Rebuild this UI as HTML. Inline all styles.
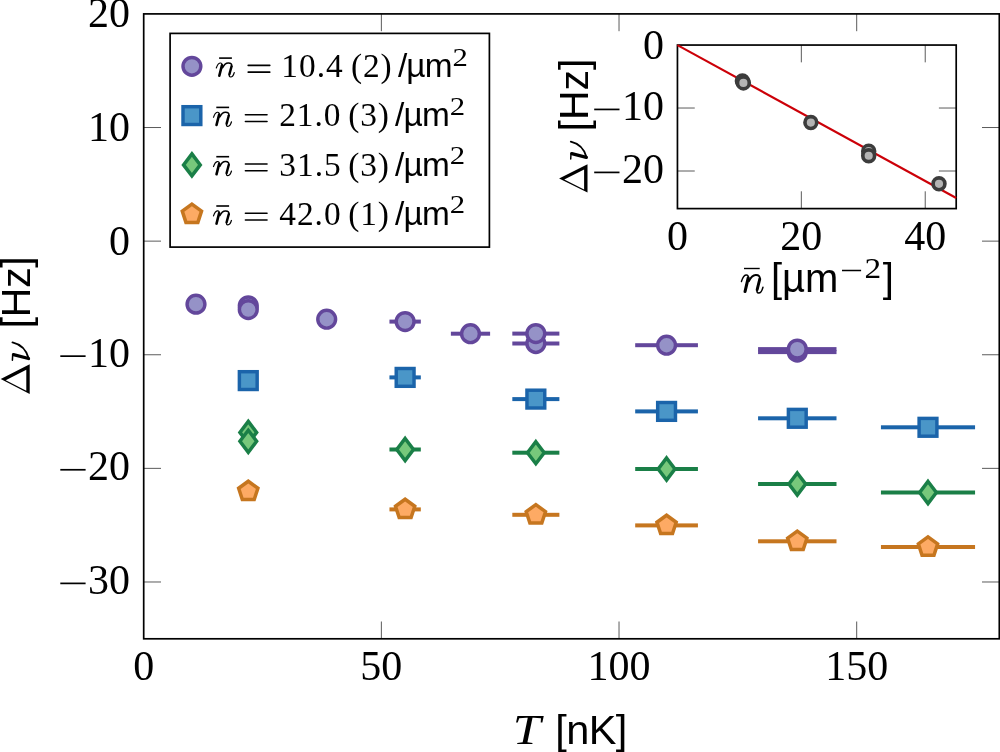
<!DOCTYPE html>
<html><head><meta charset="utf-8"><style>
html,body{margin:0;padding:0;background:#fff;overflow:hidden;}
svg{display:block;will-change:transform;}
text{fill:#000;}
</style></head><body>
<svg width="1000" height="752" viewBox="0 0 1000 752">
<rect width="1000" height="752" fill="#fff"/>
<g stroke="#000" stroke-width="0.65">
<line x1="381.37" y1="638.8" x2="381.37" y2="621.5"/>
<line x1="381.37" y1="13.9" x2="381.37" y2="31.200000000000003"/>
<line x1="619.03" y1="638.8" x2="619.03" y2="621.5"/>
<line x1="619.03" y1="13.9" x2="619.03" y2="31.200000000000003"/>
<line x1="856.70" y1="638.8" x2="856.70" y2="621.5"/>
<line x1="856.70" y1="13.9" x2="856.70" y2="31.200000000000003"/>
<line x1="143.7" y1="127.52" x2="161.0" y2="127.52"/>
<line x1="999.3" y1="127.52" x2="982.0" y2="127.52"/>
<line x1="143.7" y1="241.14" x2="161.0" y2="241.14"/>
<line x1="999.3" y1="241.14" x2="982.0" y2="241.14"/>
<line x1="143.7" y1="354.75" x2="161.0" y2="354.75"/>
<line x1="999.3" y1="354.75" x2="982.0" y2="354.75"/>
<line x1="143.7" y1="468.37" x2="161.0" y2="468.37"/>
<line x1="999.3" y1="468.37" x2="982.0" y2="468.37"/>
<line x1="143.7" y1="581.99" x2="161.0" y2="581.99"/>
<line x1="999.3" y1="581.99" x2="982.0" y2="581.99"/>
</g>
<rect x="389.45" y="319.60" width="31.37" height="4.0" fill="#63479b"/>
<rect x="450.88" y="331.70" width="39.22" height="4.0" fill="#63479b"/>
<rect x="512.32" y="341.50" width="47.06" height="4.0" fill="#63479b"/>
<rect x="512.32" y="331.60" width="47.06" height="4.0" fill="#63479b"/>
<rect x="635.19" y="343.20" width="62.74" height="4.0" fill="#63479b"/>
<rect x="758.07" y="350.10" width="78.43" height="4.0" fill="#63479b"/>
<rect x="758.07" y="347.10" width="78.43" height="4.0" fill="#63479b"/>
<circle cx="195.99" cy="304.15" r="8.9" fill="#9592c7" stroke="#63479b" stroke-width="3.45"/>
<circle cx="248.27" cy="305.80" r="8.9" fill="#9592c7" stroke="#63479b" stroke-width="3.45"/>
<circle cx="248.27" cy="309.60" r="8.9" fill="#9592c7" stroke="#63479b" stroke-width="3.45"/>
<circle cx="326.70" cy="319.20" r="8.9" fill="#9592c7" stroke="#63479b" stroke-width="3.45"/>
<circle cx="405.13" cy="321.60" r="8.9" fill="#9592c7" stroke="#63479b" stroke-width="3.45"/>
<circle cx="470.49" cy="333.70" r="8.9" fill="#9592c7" stroke="#63479b" stroke-width="3.45"/>
<circle cx="535.85" cy="343.50" r="8.9" fill="#9592c7" stroke="#63479b" stroke-width="3.45"/>
<circle cx="535.85" cy="333.60" r="8.9" fill="#9592c7" stroke="#63479b" stroke-width="3.45"/>
<circle cx="666.57" cy="345.20" r="8.9" fill="#9592c7" stroke="#63479b" stroke-width="3.45"/>
<circle cx="797.28" cy="352.10" r="8.9" fill="#9592c7" stroke="#63479b" stroke-width="3.45"/>
<circle cx="797.28" cy="349.10" r="8.9" fill="#9592c7" stroke="#63479b" stroke-width="3.45"/>
<rect x="389.45" y="375.40" width="31.37" height="4.0" fill="#1b64aa"/>
<rect x="512.32" y="397.10" width="47.06" height="4.0" fill="#1b64aa"/>
<rect x="635.19" y="409.40" width="62.74" height="4.0" fill="#1b64aa"/>
<rect x="758.07" y="416.30" width="78.43" height="4.0" fill="#1b64aa"/>
<rect x="880.94" y="425.30" width="94.12" height="4.0" fill="#1b64aa"/>
<rect x="239.37" y="371.70" width="17.80" height="17.80" fill="#4a96c8" stroke="#1b64aa" stroke-width="3.45"/>
<rect x="396.23" y="368.50" width="17.80" height="17.80" fill="#4a96c8" stroke="#1b64aa" stroke-width="3.45"/>
<rect x="526.95" y="390.20" width="17.80" height="17.80" fill="#4a96c8" stroke="#1b64aa" stroke-width="3.45"/>
<rect x="657.67" y="402.50" width="17.80" height="17.80" fill="#4a96c8" stroke="#1b64aa" stroke-width="3.45"/>
<rect x="788.38" y="409.40" width="17.80" height="17.80" fill="#4a96c8" stroke="#1b64aa" stroke-width="3.45"/>
<rect x="919.10" y="418.40" width="17.80" height="17.80" fill="#4a96c8" stroke="#1b64aa" stroke-width="3.45"/>
<rect x="389.45" y="447.50" width="31.37" height="4.0" fill="#1a7f47"/>
<rect x="512.32" y="450.70" width="47.06" height="4.0" fill="#1a7f47"/>
<rect x="635.19" y="467.00" width="62.74" height="4.0" fill="#1a7f47"/>
<rect x="758.07" y="482.00" width="78.43" height="4.0" fill="#1a7f47"/>
<rect x="880.94" y="490.50" width="94.12" height="4.0" fill="#1a7f47"/>
<path d="M248.27 421.40L256.62 432.40L248.27 443.40L239.92 432.40Z" fill="#77c87b" stroke="#1a7f47" stroke-width="3.5" stroke-miterlimit="10"/>
<path d="M248.27 430.30L256.62 441.30L248.27 452.30L239.92 441.30Z" fill="#77c87b" stroke="#1a7f47" stroke-width="3.5" stroke-miterlimit="10"/>
<path d="M405.13 438.50L413.48 449.50L405.13 460.50L396.78 449.50Z" fill="#77c87b" stroke="#1a7f47" stroke-width="3.5" stroke-miterlimit="10"/>
<path d="M535.85 441.70L544.20 452.70L535.85 463.70L527.50 452.70Z" fill="#77c87b" stroke="#1a7f47" stroke-width="3.5" stroke-miterlimit="10"/>
<path d="M666.57 458.00L674.92 469.00L666.57 480.00L658.22 469.00Z" fill="#77c87b" stroke="#1a7f47" stroke-width="3.5" stroke-miterlimit="10"/>
<path d="M797.28 473.00L805.63 484.00L797.28 495.00L788.93 484.00Z" fill="#77c87b" stroke="#1a7f47" stroke-width="3.5" stroke-miterlimit="10"/>
<path d="M928.00 481.50L936.35 492.50L928.00 503.50L919.65 492.50Z" fill="#77c87b" stroke="#1a7f47" stroke-width="3.5" stroke-miterlimit="10"/>
<rect x="389.45" y="507.40" width="31.37" height="4.0" fill="#c6761f"/>
<rect x="512.32" y="512.80" width="47.06" height="4.0" fill="#c6761f"/>
<rect x="635.19" y="523.40" width="62.74" height="4.0" fill="#c6761f"/>
<rect x="758.07" y="539.30" width="78.43" height="4.0" fill="#c6761f"/>
<rect x="880.94" y="545.00" width="94.12" height="4.0" fill="#c6761f"/>
<path d="M248.27 481.26L257.92 488.27L254.23 499.60L242.31 499.60L238.63 488.27Z" fill="#fdaa64" stroke="#c6761f" stroke-width="3.5" stroke-miterlimit="10"/>
<path d="M405.13 499.26L414.78 506.27L411.09 517.60L399.17 517.60L395.49 506.27Z" fill="#fdaa64" stroke="#c6761f" stroke-width="3.5" stroke-miterlimit="10"/>
<path d="M535.85 504.66L545.49 511.67L541.81 523.00L529.89 523.00L526.21 511.67Z" fill="#fdaa64" stroke="#c6761f" stroke-width="3.5" stroke-miterlimit="10"/>
<path d="M666.57 515.26L676.21 522.27L672.53 533.60L660.61 533.60L656.92 522.27Z" fill="#fdaa64" stroke="#c6761f" stroke-width="3.5" stroke-miterlimit="10"/>
<path d="M797.28 531.16L806.93 538.17L803.24 549.50L791.32 549.50L787.64 538.17Z" fill="#fdaa64" stroke="#c6761f" stroke-width="3.5" stroke-miterlimit="10"/>
<path d="M928.00 536.86L937.64 543.87L933.96 555.20L922.04 555.20L918.36 543.87Z" fill="#fdaa64" stroke="#c6761f" stroke-width="3.5" stroke-miterlimit="10"/>
<rect x="143.7" y="13.9" width="855.60" height="624.90" fill="none" stroke="#000" stroke-width="1.7"/>
<text x="88.00" y="27.40" font-family="'Liberation Serif', serif" font-size="42.0">20</text>
<text x="88.00" y="141.02" font-family="'Liberation Serif', serif" font-size="42.0">10</text>
<text x="109.00" y="254.64" font-family="'Liberation Serif', serif" font-size="42.0">0</text>
<text x="88.00" y="366.55" font-family="'Liberation Serif', serif" font-size="42.0">10</text>
<rect x="60.30" y="355.30" width="25.30" height="1.70" fill="#000"/>
<text x="88.00" y="480.17" font-family="'Liberation Serif', serif" font-size="42.0">20</text>
<rect x="60.30" y="468.92" width="25.30" height="1.70" fill="#000"/>
<text x="88.00" y="593.79" font-family="'Liberation Serif', serif" font-size="42.0">30</text>
<rect x="60.30" y="582.54" width="25.30" height="1.70" fill="#000"/>
<text x="133.20" y="680.10" font-family="'Liberation Serif', serif" font-size="42.0">0</text>
<text x="360.37" y="680.10" font-family="'Liberation Serif', serif" font-size="42.0">50</text>
<text x="587.53" y="680.10" font-family="'Liberation Serif', serif" font-size="42.0">100</text>
<text x="825.20" y="680.10" font-family="'Liberation Serif', serif" font-size="42.0">150</text>
<text transform="translate(516.00 743.60) scale(1.2 1)" x="-2.75" y="0" font-family="'Liberation Serif', serif" font-style="italic" font-size="42">T</text>
<text x="555.34" y="743.60" font-family="'Liberation Sans', sans-serif" font-size="41.5" letter-spacing="-0.6">[nK]</text>
<g transform="translate(29.70 394.00) rotate(-90)">
<path d="M0.00 0.00L29.80 0.00L14.90 -29.00ZM3.21 -3.40L13.78 -23.97L24.34 -3.40Z" fill="#000" fill-rule="evenodd"/>
<g transform="translate(34.60 0) scale(1.0)" fill="none" stroke="#000" stroke-linecap="round"><path d="M0.9 -1.2L4.7 -16.2" stroke-width="3.3"/><path d="M5.0 -17.0L-0.9 -17.3" stroke-width="1.5"/><path d="M0.7 -0.9C8.5 -3 15 -8.5 17.0 -17.2" stroke-width="1.9"/></g>
<text x="65.54" y="0.00" font-family="'Liberation Sans', sans-serif" font-size="41.5" letter-spacing="-0.5">[Hz]</text>
</g>
<rect x="170.1" y="33.4" width="319.3" height="213.7" fill="#fff" stroke="#000" stroke-width="1.7"/>
<circle cx="191.90" cy="66.30" r="8.9" fill="#9592c7" stroke="#63479b" stroke-width="3.45"/>
<g transform="translate(216.10 76.95) scale(0.03778 0.03513)" fill="none" stroke="#000" stroke-linecap="round" stroke-linejoin="round"><path d="M5 -255C30 -335 60 -390 105 -397C145 -403 165 -375 155 -335" stroke-width="31"/><path d="M155 -335L85 -33" stroke-width="68"/><path d="M172 -262C210 -345 260 -395 320 -397C390 -400 422 -365 410 -305" stroke-width="42"/><path d="M410 -305L352 -75" stroke-width="64"/><path d="M352 -75C340 -25 355 2 385 2C425 2 462 -55 480 -125" stroke-width="34"/></g>
<rect x="219.10" y="57.30" width="12.80" height="1.60" fill="#000"/>
<g stroke="#000" stroke-width="1.6" stroke-linecap="round"><line x1="248.20" y1="65.40" x2="269.80" y2="65.40"/><line x1="248.20" y1="72.15" x2="269.80" y2="72.15"/></g>
<text x="281.27" y="76.95" font-family="'Liberation Serif', serif" font-size="33.4" letter-spacing="1.0">10.4</text>
<text x="350.93" y="76.95" font-family="'Liberation Serif', serif" font-size="33.4" letter-spacing="0.9">(2)</text>
<text x="397.90" y="76.95" font-family="'Liberation Sans', sans-serif" font-size="33.4" letter-spacing="-0.8">/µm</text>
<text transform="translate(453.80 65.55) scale(1.22 1)" x="-1.11" y="0" font-family="'Liberation Serif', serif" font-size="25.2">2</text>
<rect x="183.00" y="106.70" width="17.80" height="17.80" fill="#4a96c8" stroke="#1b64aa" stroke-width="3.45"/>
<g transform="translate(213.30 126.25) scale(0.03778 0.03513)" fill="none" stroke="#000" stroke-linecap="round" stroke-linejoin="round"><path d="M5 -255C30 -335 60 -390 105 -397C145 -403 165 -375 155 -335" stroke-width="31"/><path d="M155 -335L85 -33" stroke-width="68"/><path d="M172 -262C210 -345 260 -395 320 -397C390 -400 422 -365 410 -305" stroke-width="42"/><path d="M410 -305L352 -75" stroke-width="64"/><path d="M352 -75C340 -25 355 2 385 2C425 2 462 -55 480 -125" stroke-width="34"/></g>
<rect x="216.30" y="106.60" width="12.80" height="1.60" fill="#000"/>
<g stroke="#000" stroke-width="1.6" stroke-linecap="round"><line x1="245.40" y1="114.70" x2="267.00" y2="114.70"/><line x1="245.40" y1="121.45" x2="267.00" y2="121.45"/></g>
<text x="279.13" y="126.25" font-family="'Liberation Serif', serif" font-size="33.4" letter-spacing="1.0">21.0</text>
<text x="348.13" y="126.25" font-family="'Liberation Serif', serif" font-size="33.4" letter-spacing="0.9">(3)</text>
<text x="395.10" y="126.25" font-family="'Liberation Sans', sans-serif" font-size="33.4" letter-spacing="-0.8">/µm</text>
<text transform="translate(451.00 114.85) scale(1.22 1)" x="-1.11" y="0" font-family="'Liberation Serif', serif" font-size="25.2">2</text>
<path d="M191.90 153.90L200.25 164.90L191.90 175.90L183.55 164.90Z" fill="#77c87b" stroke="#1a7f47" stroke-width="3.5" stroke-miterlimit="10"/>
<g transform="translate(213.30 175.55) scale(0.03778 0.03513)" fill="none" stroke="#000" stroke-linecap="round" stroke-linejoin="round"><path d="M5 -255C30 -335 60 -390 105 -397C145 -403 165 -375 155 -335" stroke-width="31"/><path d="M155 -335L85 -33" stroke-width="68"/><path d="M172 -262C210 -345 260 -395 320 -397C390 -400 422 -365 410 -305" stroke-width="42"/><path d="M410 -305L352 -75" stroke-width="64"/><path d="M352 -75C340 -25 355 2 385 2C425 2 462 -55 480 -125" stroke-width="34"/></g>
<rect x="216.30" y="155.90" width="12.80" height="1.60" fill="#000"/>
<g stroke="#000" stroke-width="1.6" stroke-linecap="round"><line x1="245.40" y1="164.00" x2="267.00" y2="164.00"/><line x1="245.40" y1="170.75" x2="267.00" y2="170.75"/></g>
<text x="279.25" y="175.55" font-family="'Liberation Serif', serif" font-size="33.4" letter-spacing="1.0">31.5</text>
<text x="348.13" y="175.55" font-family="'Liberation Serif', serif" font-size="33.4" letter-spacing="0.9">(3)</text>
<text x="395.10" y="175.55" font-family="'Liberation Sans', sans-serif" font-size="33.4" letter-spacing="-0.8">/µm</text>
<text transform="translate(451.00 164.15) scale(1.22 1)" x="-1.11" y="0" font-family="'Liberation Serif', serif" font-size="25.2">2</text>
<path d="M191.90 204.06L201.54 211.07L197.86 222.40L185.94 222.40L182.26 211.07Z" fill="#fdaa64" stroke="#c6761f" stroke-width="3.5" stroke-miterlimit="10"/>
<g transform="translate(213.30 224.85) scale(0.03778 0.03513)" fill="none" stroke="#000" stroke-linecap="round" stroke-linejoin="round"><path d="M5 -255C30 -335 60 -390 105 -397C145 -403 165 -375 155 -335" stroke-width="31"/><path d="M155 -335L85 -33" stroke-width="68"/><path d="M172 -262C210 -345 260 -395 320 -397C390 -400 422 -365 410 -305" stroke-width="42"/><path d="M410 -305L352 -75" stroke-width="64"/><path d="M352 -75C340 -25 355 2 385 2C425 2 462 -55 480 -125" stroke-width="34"/></g>
<rect x="216.30" y="205.20" width="12.80" height="1.60" fill="#000"/>
<g stroke="#000" stroke-width="1.6" stroke-linecap="round"><line x1="245.40" y1="213.30" x2="267.00" y2="213.30"/><line x1="245.40" y1="220.05" x2="267.00" y2="220.05"/></g>
<text x="279.22" y="224.85" font-family="'Liberation Serif', serif" font-size="33.4" letter-spacing="1.0">42.0</text>
<text x="348.13" y="224.85" font-family="'Liberation Serif', serif" font-size="33.4" letter-spacing="0.9">(1)</text>
<text x="395.10" y="224.85" font-family="'Liberation Sans', sans-serif" font-size="33.4" letter-spacing="-0.8">/µm</text>
<text transform="translate(451.00 213.45) scale(1.22 1)" x="-1.11" y="0" font-family="'Liberation Serif', serif" font-size="25.2">2</text>
<rect x="677.45" y="45.05" width="278.75" height="163.55" fill="#fff"/>
<rect x="677.45" y="45.05" width="278.75" height="163.55" fill="none" stroke="#000" stroke-width="1.7"/>
<g stroke="#000" stroke-width="0.65">
<line x1="801.34" y1="208.6" x2="801.34" y2="191.29999999999998"/>
<line x1="801.34" y1="45.05" x2="801.34" y2="62.349999999999994"/>
<line x1="925.23" y1="208.6" x2="925.23" y2="191.29999999999998"/>
<line x1="925.23" y1="45.05" x2="925.23" y2="62.349999999999994"/>
<line x1="677.45" y1="108.03" x2="694.75" y2="108.03"/>
<line x1="956.2" y1="108.03" x2="938.9000000000001" y2="108.03"/>
<line x1="677.45" y1="171.01" x2="694.75" y2="171.01"/>
<line x1="956.2" y1="171.01" x2="938.9000000000001" y2="171.01"/>
</g>
<line x1="677.45" y1="45.05" x2="956.2" y2="198.0" stroke="#cc0008" stroke-width="2.1"/>
<circle cx="742.4" cy="81.0" r="5.9" fill="#b4b4b4" stroke="#3c3c3c" stroke-width="3.65"/>
<circle cx="743.4" cy="82.9" r="5.9" fill="#b4b4b4" stroke="#3c3c3c" stroke-width="3.65"/>
<circle cx="810.85" cy="122.55" r="5.9" fill="#b4b4b4" stroke="#3c3c3c" stroke-width="3.65"/>
<circle cx="868.7" cy="151.15" r="5.9" fill="#b4b4b4" stroke="#3c3c3c" stroke-width="3.65"/>
<circle cx="868.7" cy="155.75" r="5.9" fill="#b4b4b4" stroke="#3c3c3c" stroke-width="3.65"/>
<circle cx="939.0" cy="183.8" r="5.9" fill="#b4b4b4" stroke="#3c3c3c" stroke-width="3.65"/>
<text x="642.90" y="58.55" font-family="'Liberation Serif', serif" font-size="42.0">0</text>
<text x="621.90" y="119.83" font-family="'Liberation Serif', serif" font-size="42.0">10</text>
<rect x="594.20" y="108.58" width="25.30" height="1.70" fill="#000"/>
<text x="621.90" y="182.81" font-family="'Liberation Serif', serif" font-size="42.0">20</text>
<rect x="594.20" y="171.56" width="25.30" height="1.70" fill="#000"/>
<text x="666.95" y="249.80" font-family="'Liberation Serif', serif" font-size="42.0">0</text>
<text x="780.34" y="249.80" font-family="'Liberation Serif', serif" font-size="42.0">20</text>
<text x="904.23" y="249.80" font-family="'Liberation Serif', serif" font-size="42.0">40</text>
<g transform="translate(741.20 293.00) scale(0.04525 0.04525)" fill="none" stroke="#000" stroke-linecap="round" stroke-linejoin="round"><path d="M5 -255C30 -335 60 -390 105 -397C145 -403 165 -375 155 -335" stroke-width="31"/><path d="M155 -335L85 -33" stroke-width="68"/><path d="M172 -262C210 -345 260 -395 320 -397C390 -400 422 -365 410 -305" stroke-width="42"/><path d="M410 -305L352 -75" stroke-width="64"/><path d="M352 -75C340 -25 355 2 385 2C425 2 462 -55 480 -125" stroke-width="34"/></g>
<rect x="744.00" y="267.80" width="15.70" height="1.40" fill="#000"/>
<text x="770.95" y="292.10" font-family="'Liberation Sans', sans-serif" font-size="40">[µm</text>
<rect x="842.00" y="269.75" width="19.10" height="1.50" fill="#000"/>
<text transform="translate(865.90 277.90) scale(1.17 1)" x="-1.25" y="0" font-family="'Liberation Serif', serif" font-size="28.5">2</text>
<text x="882.64" y="292.10" font-family="'Liberation Sans', sans-serif" font-size="40">]</text>
<g transform="translate(587.50 192.60) rotate(-90)">
<path d="M0.00 0.00L28.40 0.00L14.20 -28.40ZM3.15 -3.40L13.08 -23.26L23.01 -3.40Z" fill="#000" fill-rule="evenodd"/>
<g transform="translate(34.40 0) scale(0.97)" fill="none" stroke="#000" stroke-linecap="round"><path d="M0.9 -1.2L4.7 -16.2" stroke-width="3.3"/><path d="M5.0 -17.0L-0.9 -17.3" stroke-width="1.5"/><path d="M0.7 -0.9C8.5 -3 15 -8.5 17.0 -17.2" stroke-width="1.9"/></g>
<text x="61.18" y="0.00" font-family="'Liberation Sans', sans-serif" font-size="41">[Hz]</text>
</g>
</svg>
</body></html>
